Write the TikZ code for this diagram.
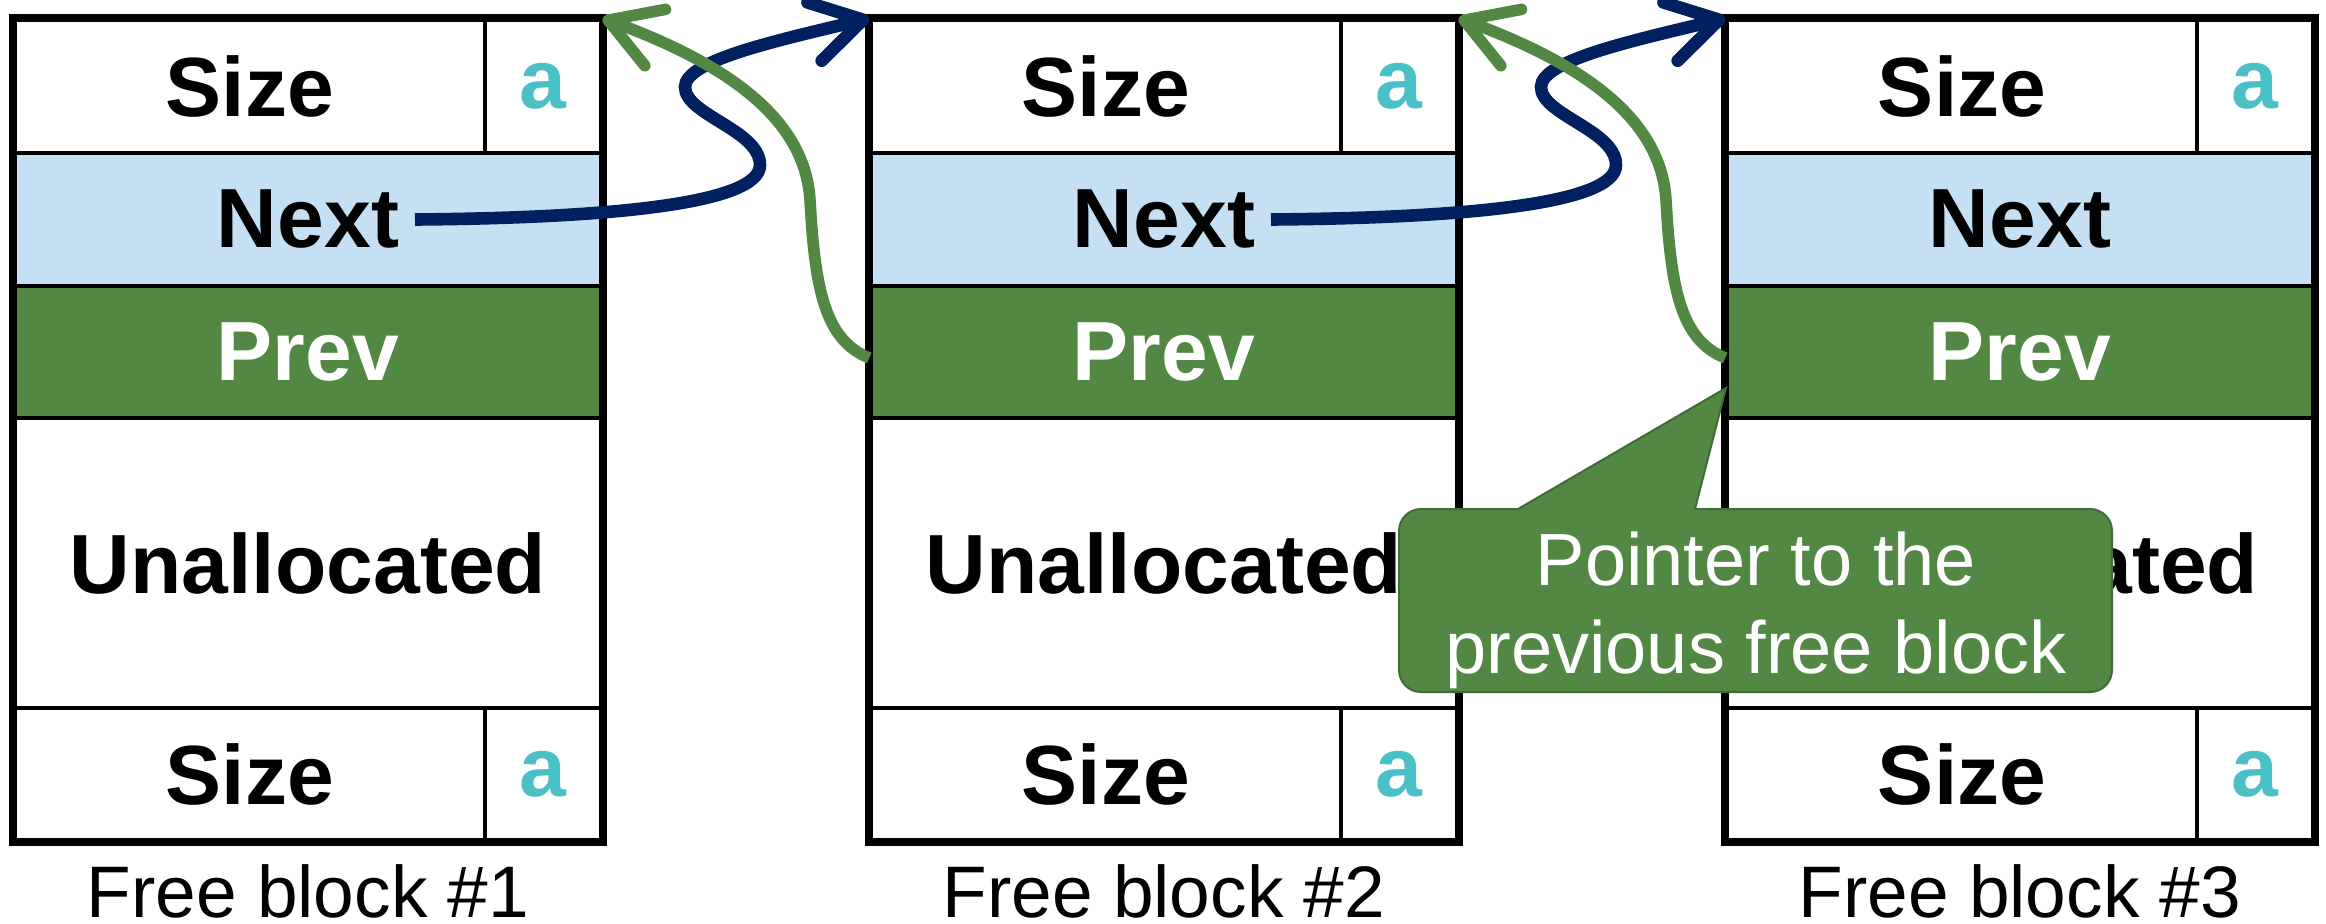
\documentclass[tikz,border=0pt]{standalone}
\usepackage{fontspec}
\setmainfont{Liberation Sans}
\usetikzlibrary{arrows.meta}

\definecolor{nextblue}{RGB}{197,224,242}
\definecolor{prevgreen}{RGB}{82,135,68}
\definecolor{edgegreen}{RGB}{62,108,52}
\definecolor{ptrnavy}{RGB}{0,32,96}
\definecolor{tagteal}{RGB}{72,192,197}

\newcommand{\fieldfont}{\fontsize{42}{50}\selectfont\bfseries}
\newcommand{\namefont}{\fontsize{36.5}{44}\selectfont}
\newcommand{\notefont}{\fontsize{37}{44}\selectfont}

\tikzset{basic/.style={draw,line width=1.75pt,inner sep=0pt,
                       text badly centered,font=\fieldfont}}
\tikzset{field/.style={basic,minimum width=235pt,minimum height=66.5pt}}
\tikzset{tag/.style={basic,minimum width=58pt,minimum height=66.5pt,text=tagteal}}
\tikzset{wide/.style={basic,minimum width=293pt}}
\tikzset{nextrow/.style={wide,fill=nextblue,minimum height=66.5pt}}
\tikzset{prevrow/.style={wide,fill=prevgreen,text=white,minimum height=66pt}}
\tikzset{freerow/.style={wide,minimum height=145pt}}
\tikzset{outline/.style={draw,line width=3.8pt}}
\tikzset{blockname/.style={anchor=base,inner sep=0pt,font=\namefont}}
\tikzset{link/.style={draw=ptrnavy,line width=6.3pt,
                      -{Straight Barb[length=25pt,width=30pt,round]}}}
\tikzset{back/.style={link,draw=prevgreen,line width=5.8pt}}
\tikzset{note/.style={fill=prevgreen,draw=edgegreen,line width=1pt}}

\begin{document}
\begin{tikzpicture}[x=0.5pt,y=-0.5pt]
    \useasboundingbox (0,0) rectangle (2326,923);
    \foreach \L [count=\i] in {15,871,1727}{%
          \node[field]   (size\i) at (\L+235,86.5)  {Size};
          \node[tag]     (tag\i)  at (\L+528,86.5)  {a};
          \node[nextrow] (next\i) at (\L+293,219.5) {Next};
          \node[prevrow] (prev\i) at (\L+293,352)   {Prev};
          \node[freerow] (free\i) at (\L+293,563)   {Unallocated};
          \node[field]   (foot\i) at (\L+235,774)   {Size};
          \node[tag]     (ftag\i) at (\L+528,774)   {a};
          \draw[outline] (size\i.north west) rectangle (ftag\i.south east);
          \node[blockname] (name\i) at (\L+293,917) {Free block \#\i};
        }
    % next and prev pointers
    \foreach \L/\i/\j in {15/1/2,871/2/3}{%
          \draw[link] ([xshift=53.5pt]next\i.center)
                .. controls (\L+585,218) and (\L+745,205) .. (\L+745,165)
                .. controls (\L+745,130) and (\L+670,115) .. (\L+670,87)
                .. controls (\L+670,60) and (\L+765,40) .. (size\j.north west);
          \draw[back] ([yshift=-3pt]prev\j.west)
                .. controls (\L+810,340) and (\L+800,290) .. (\L+795,200)
                .. controls (\L+790,120) and (\L+715,65) .. (tag\i.north east);
        }
    % Callout
    \coordinate (ptr) at (1726,388);
    \draw[note] (ptr) -- (1695,509) [rounded corners=11pt] -- (2112,509)
          -- (2112,692) -- (1399,692) -- (1399,509) [sharp corners]
          -- (1518,509) -- cycle;
    \node[text=white,align=center,inner sep=0pt,font=\notefont] (note)
          at (1756,610) {Pointer to the\\previous free block};
\end{tikzpicture}
\end{document}
